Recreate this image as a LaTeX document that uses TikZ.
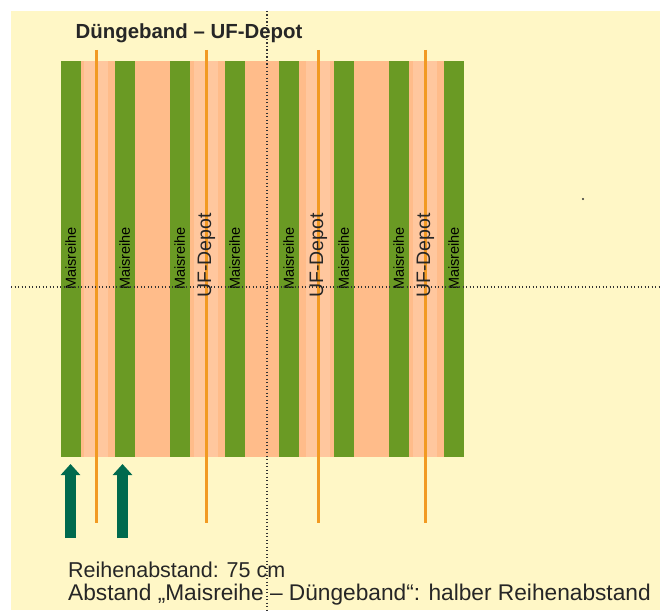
\documentclass[tikz,border=0pt]{standalone}
\usepackage{fontspec}
\setmainfont{Liberation Sans}
\usetikzlibrary{arrows.meta}
\definecolor{cream}{HTML}{FFF7C6}
\definecolor{salmon}{HTML}{FFBC8A}
\definecolor{bandlight}{HTML}{FFC79E}
\definecolor{rowgreen}{HTML}{6A9A24}
\definecolor{bandorange}{HTML}{F29A22}
\definecolor{arrowteal}{HTML}{006A4E}
\definecolor{guide}{HTML}{333333}
\tikzset{
  rowlabel/.style={rotate=90, font=\fontsize{14.5}{14.5}\selectfont, text=black, inner sep=0pt},
  depotlabel/.style={rotate=90, font=\fontsize{19.5}{19.5}\selectfont, text=black!85, inner sep=0pt},
  bandline/.style={draw=bandorange, line width=3pt},
  guideline/.style={draw=guide, line width=1.2pt, dash pattern=on 1.3pt off 2.2pt},
  rowarrow/.style={draw=arrowteal, line width=10.5pt, -{Triangle[width=19pt,length=11pt]}},
  caption/.style={anchor=base west, inner sep=0pt, text=black!85}
}
\begin{document}
\begin{tikzpicture}[x=1pt,y=-1pt]
  \useasboundingbox (0,0) rectangle (660,610);
  \fill[white] (0,0) rectangle (660,610);
  \fill[cream] (11,11) rectangle (660,610);

  % field strip
  \fill[salmon] (61,61) rectangle (464,457);
  \foreach \x in {96,206,318,425}
    \fill[bandlight] (\x-12,61) rectangle (\x+12,457);

  % maize rows
  \foreach \x in {61,115,170,225,279,334,389,444}
    \fill[rowgreen] (\x,61) rectangle (\x+19.5,457);

  % fertiliser bands
  \foreach \x/\n in {96/a,206/b,318/c,425/d} {
    \coordinate (bt\n) at (\x,50);
    \coordinate (bb\n) at (\x,523);
    \draw[bandline] (bt\n) -- (bb\n);
  }

  % row labels
  \foreach \x/\n in {70.8/1,124.8/2,179.8/3,234.8/4,288.8/5,343.8/6,398.8/7,453.8/8}
    \node[rowlabel] (row\n) at (\x,258.5) {Maisreihe};
  \foreach \x/\n in {206.5/1,318.5/2,425.5/3}
    \node[depotlabel] (depot\n) at (\x,255.5) {UF-Depot};

  % guide lines
  \coordinate (vt) at (267,11);
  \coordinate (vb) at (267,610);
  \coordinate (hl) at (11,287);
  \coordinate (hr) at (660,287);
  \draw[guideline] (vt) -- (vb);
  \draw[guideline] (hl) -- (hr);

  % direction of the rows
  \coordinate (a1s) at (70.5,538);
  \coordinate (a1e) at (70.5,464);
  \coordinate (a2s) at (122.5,538);
  \coordinate (a2e) at (122.5,464);
  \draw[rowarrow] (a1s) -- (a1e);
  \draw[rowarrow] (a2s) -- (a2e);

  \fill[guide] (583,199) circle (1.1pt);

  % texts
  \node[anchor=base west, inner sep=0pt, font=\bfseries\fontsize{20.4}{20.4}\selectfont, text=black!85] (title) at (75.5,39) {Düngeband – UF-Depot};
  \node[caption, font=\fontsize{21.5}{21.5}\selectfont] (cap1) at (68,577) {Reihenabstand: 75 cm};
  \node[caption, font=\fontsize{22.7}{22.7}\selectfont] (cap2) at (68,600.5) {Abstand „Maisreihe – Düngeband“: halber Reihenabstand};
\end{tikzpicture}
\end{document}
